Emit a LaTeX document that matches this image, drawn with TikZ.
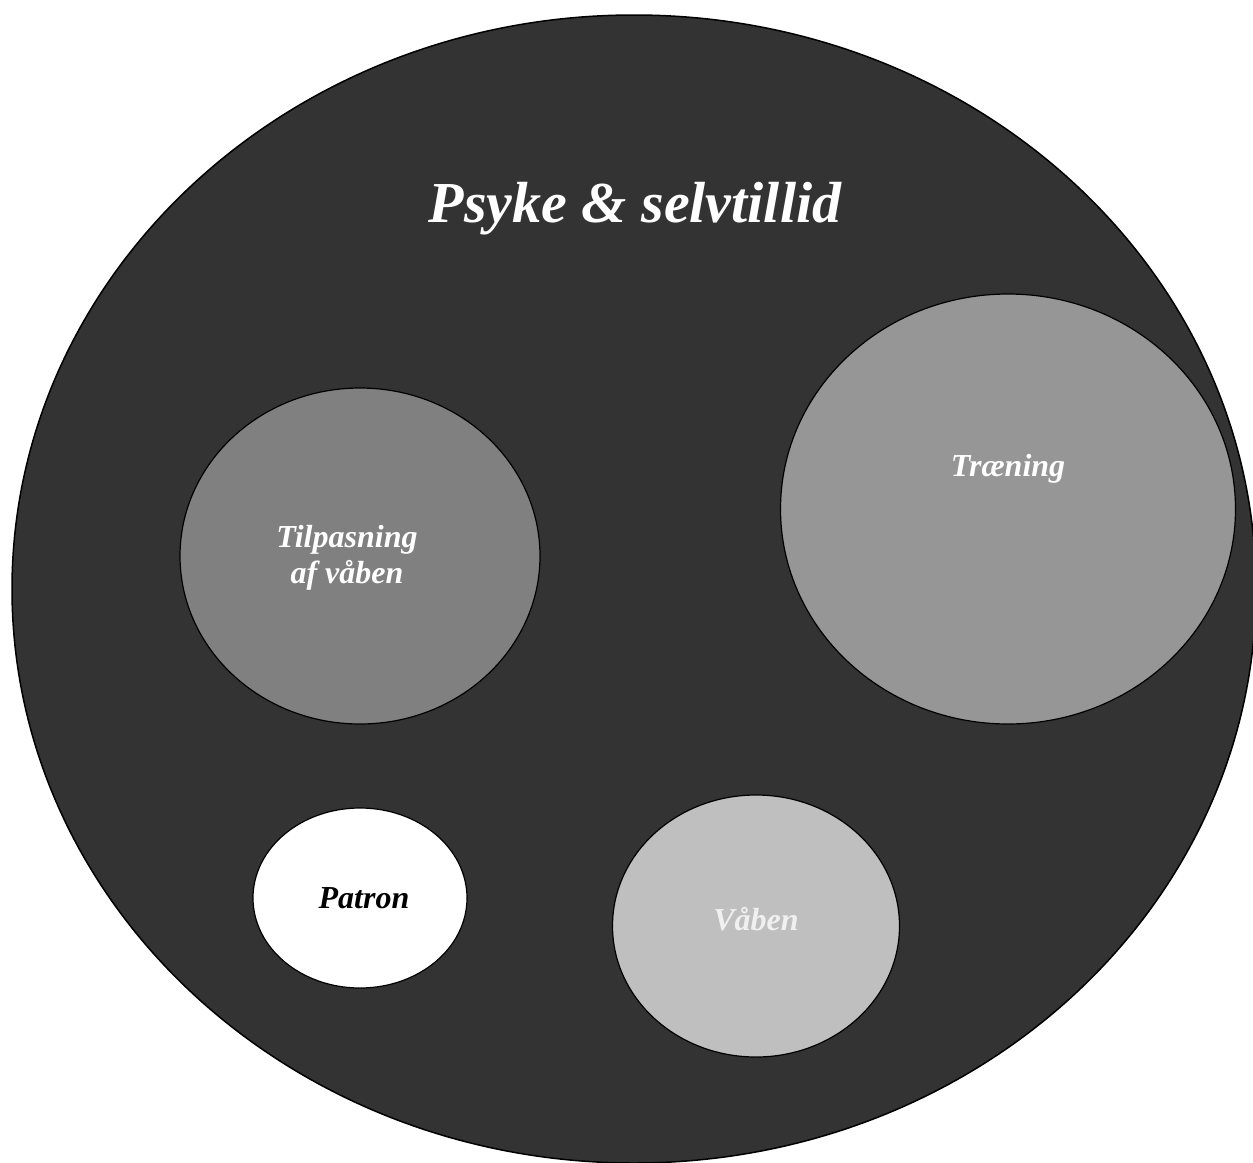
\documentclass[tikz,border=0pt]{standalone}
\usepackage{fontspec}
\setmainfont{Liberation Serif}
\usetikzlibrary{shapes.geometric,positioning}

\begin{document}
\begin{tikzpicture}[x=1pt,y=-1pt]
		\tikzstyle{blob}=[ellipse, draw=black, line width=1.2pt, inner sep=0pt]
		\tikzstyle{word}=[font=\bfseries\itshape\fontsize{32}{36}\selectfont, anchor=base, align=center, inner sep=0pt]
		\useasboundingbox (0,0) rectangle (1253,1162);
		\node[blob, fill=black!80, line width=1.5pt, minimum width=1244pt, minimum height=1148pt] (psyke) at (634,589) { };
		\node[word, text=white, font=\bfseries\itshape\fontsize{58}{64}\selectfont] (title) at (635,222) {Psyke \& selvtillid};
		
		\node[blob, fill=black!50, minimum width=360pt, minimum height=336pt] (tilpas) at (360,556) { };
		\node[word, text=white] (tilpasT) at (347,547) {Tilpasning};
		\node[word, text=white] (tilpasB) at (347,583) {af våben};
		
		\node[blob, fill=black!41, minimum width=455pt, minimum height=430pt] (traening) at (1008,509) { };
		\node[word, text=white] (traeningT) at (1008,476) {Træning};
		
		\node[blob, fill=white, minimum width=214pt, minimum height=180pt] (patron) at (360,898) { };
		\node[word, text=black] (patronT) at (364,908) {Patron};
		
		\node[blob, fill=black!25, minimum width=287pt, minimum height=262pt] (vaaben) at (756,926) { };
		\node[word, text=black!6] (vaabenT) at (756,930) {Våben};
	\end{tikzpicture}
\end{document}
